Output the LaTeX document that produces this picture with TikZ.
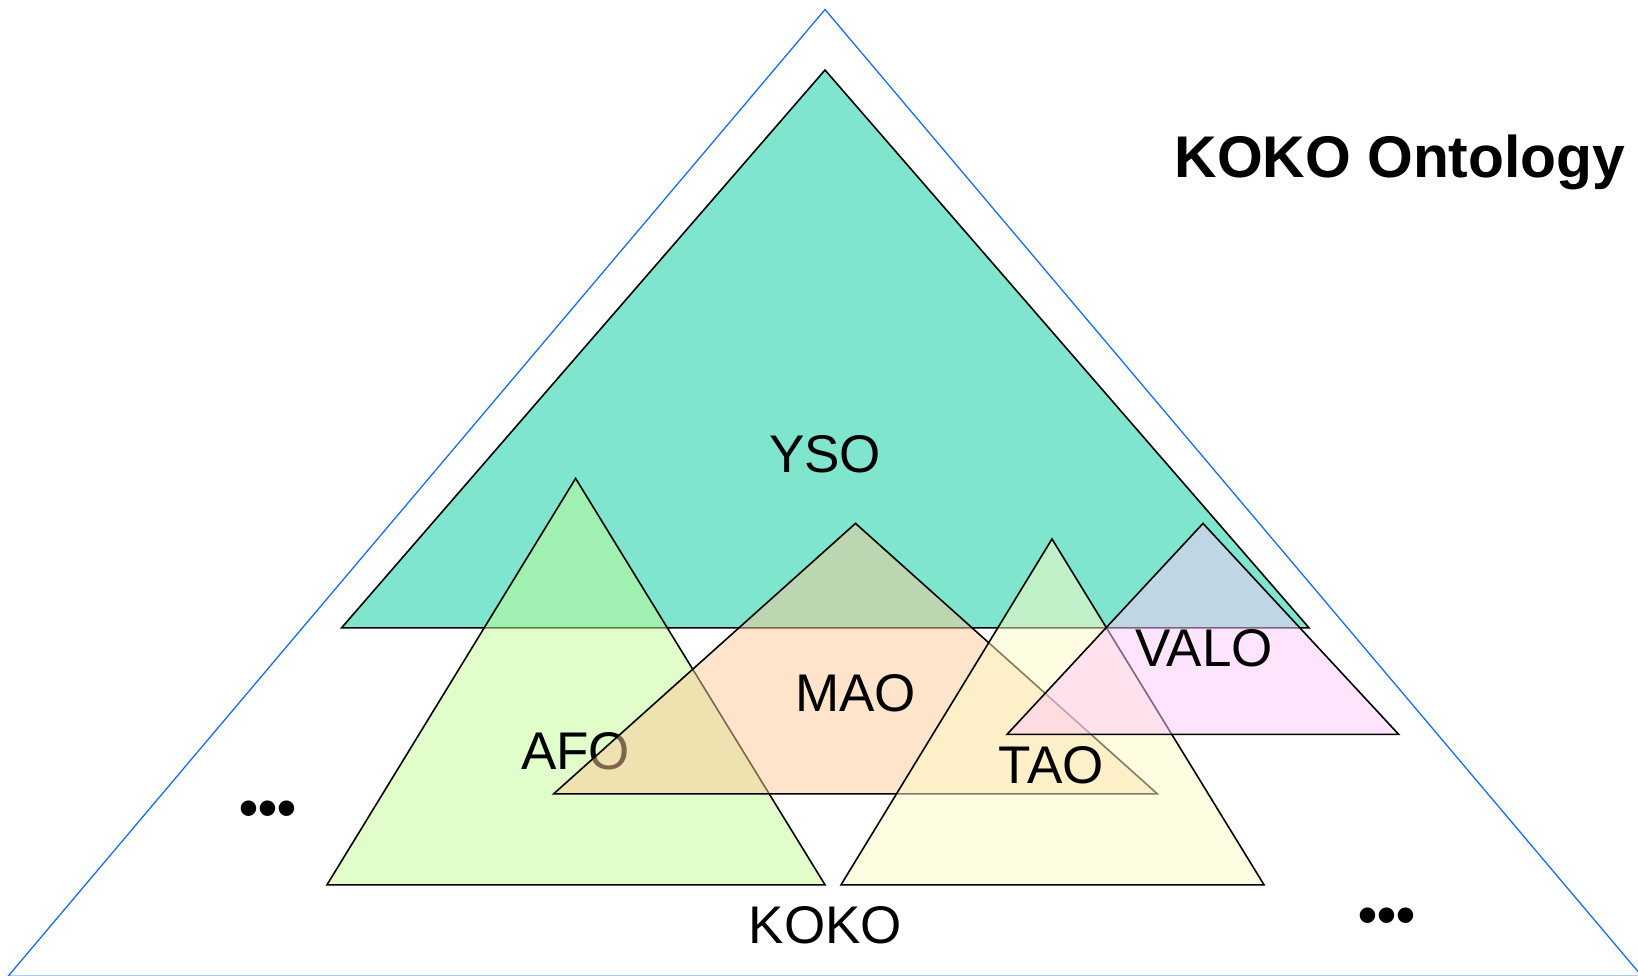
\documentclass[tikz,border=0pt]{standalone}
\usepackage{fontspec}
\setmainfont{Liberation Sans}
\definecolor{kokoblue}{RGB}{20,110,250}
\definecolor{ysofill}{RGB}{128,229,206}
\definecolor{afofill}{RGB}{193,251,149}
\definecolor{maofill}{RGB}{251,201,151}
\definecolor{taofill}{RGB}{255,251,195}
\definecolor{valofill}{RGB}{255,201,251}
\begin{document}
\begin{tikzpicture}[x=1pt,y=-1pt,
  tri/.style={draw=black,line width=1.6pt,line join=miter},
  ontotri/.style={tri,fill opacity=0.5},
  lbl/.style={inner sep=0pt,anchor=base,font=\fontsize{53}{60}\selectfont},
  ttl/.style={inner sep=0pt,anchor=base,font=\fontsize{58.8}{66}\selectfont\bfseries},
  dotlbl/.style={inner sep=0pt,anchor=center,font=\fontsize{54}{60}\selectfont\bfseries}]
\useasboundingbox (0,0) rectangle (1638,976);
% outer KOKO triangle
\draw[kokoblue,line width=1.3pt] (825,9.5) -- (8,976.3) -- (1642,976.3) -- cycle;
% YSO
\filldraw[tri,fill=ysofill] (825,70) -- (341.6,627.8) -- (1309,627.8) -- cycle;
\node[lbl] (yso) at (825,472) {YSO};
% AFO
\filldraw[ontotri,fill=afofill] (575.6,478.4) -- (327,884.8) -- (825,884.8) -- cycle;
\node[lbl] (afo) at (575.6,769) {AFO};
% MAO
\filldraw[ontotri,fill=maofill] (855.5,523.4) -- (553.6,793.9) -- (1157.4,793.9) -- cycle;
\node[lbl] (mao) at (855.5,711) {MAO};
% TAO
\filldraw[ontotri,fill=taofill] (1052,539) -- (841,884.8) -- (1264,884.8) -- cycle;
\node[lbl] (tao) at (1051.4,783.5) {TAO};
% VALO
\filldraw[ontotri,fill=valofill] (1203,523.4) -- (1007,734.4) -- (1398.7,734.4) -- cycle;
\node[lbl] (valo) at (1204,666.5) {VALO};
% labels
\node[lbl] (koko) at (825.3,943.3) {KOKO};
\node[ttl] (title) at (1400,178) {KOKO Ontology};
\node[dotlbl] (dotsl) at (268,814) {•••};
\node[dotlbl] (dotsr) at (1387.3,920.3) {•••};
\end{tikzpicture}
\end{document}
